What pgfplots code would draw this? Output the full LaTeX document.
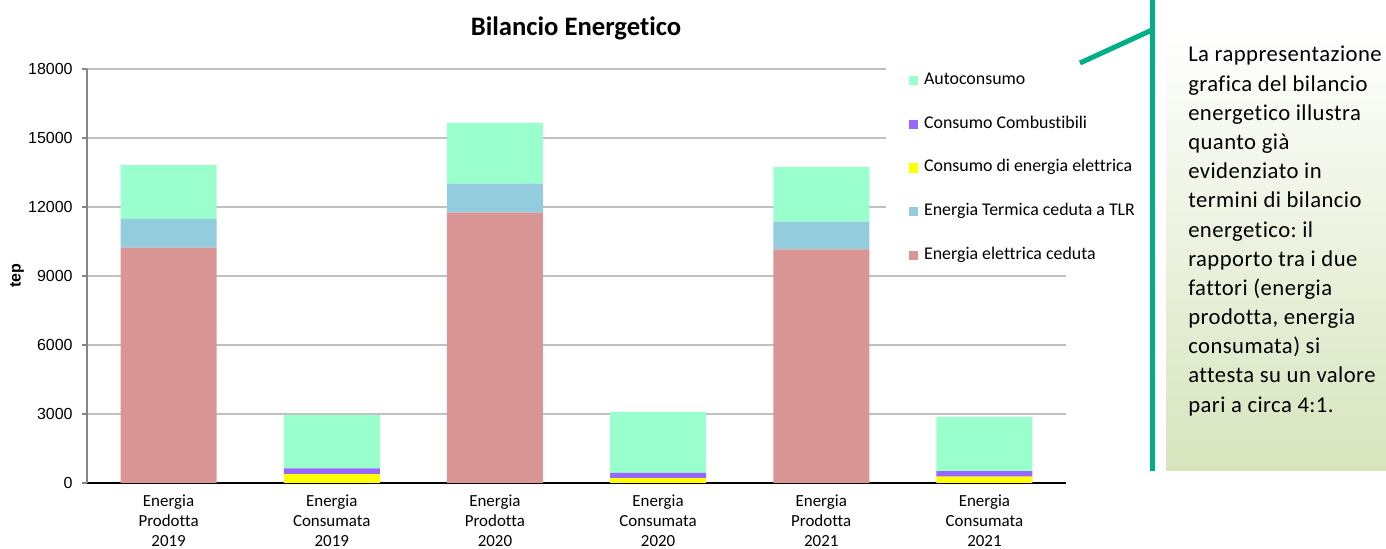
\documentclass[border=0pt]{standalone}
\usepackage{pgfplots}
\pgfplotsset{compat=1.18}
\usepackage{fontspec}
\setmainfont{Carlito}[Ligatures={NoCommon}]
\newfontfamily\arial{Liberation Sans}
\newfontfamily\callfont{Carlito}[Ligatures={NoCommon}, LetterSpace=2]
\definecolor{cRed}{HTML}{D99694}
\definecolor{cBlue}{HTML}{93CDDD}
\definecolor{cYel}{HTML}{FFFF00}
\definecolor{cPur}{HTML}{9966FF}
\definecolor{cGrn}{HTML}{99FFCC}
\definecolor{cLine}{HTML}{00B085}
\definecolor{cBox}{HTML}{D7E4BD}
\definecolor{cGrid}{HTML}{C0C0C0}
\definecolor{cAx}{HTML}{868686}
\frenchspacing
\begin{document}
\begin{tikzpicture}[x=0.75pt,y=0.75pt]
\useasboundingbox (0,0) rectangle (1386,549);
\begin{axis}[
  at={(65.25pt,49.5pt)}, anchor=south west,
  scale only axis, width=734.25pt, height=310.5pt,
  ybar stacked, bar width=72pt,
  xmin=-0.5, xmax=5.5, ymin=0, ymax=18000,
  xtick=data,
  xticklabels={{Energia\\Prodotta\\2019},{Energia\\Consumata\\2019},{Energia\\Prodotta\\2020},{Energia\\Consumata\\2020},{Energia\\Prodotta\\2021},{Energia\\Consumata\\2021}},
  ytick={0,3000,6000,9000,12000,15000,18000},
  scaled y ticks=false,
  ymajorgrids, grid style={color=cGrid, line width=0.8pt},
  axis x line*=bottom, axis y line*=left,
  x axis line style={black, line width=0.8pt, -},
  y axis line style={cAx, line width=0.8pt, -},
  xtick style={draw=none},
  ytick style={cAx, line width=0.8pt},
  tick align=outside, major tick length=3.75pt,
  /pgf/number format/assume math mode=true,
  /pgf/number format/1000 sep={},
  yticklabel style={font=\arial\fontsize{12}{14}\selectfont, xshift=-3.5pt},
  xticklabel style={align=center, font=\fontsize{12.7}{15}\selectfont, yshift=-1.8pt},
  ylabel={tep},
  ylabel style={font=\arial\bfseries\fontsize{12}{14}\selectfont, at={(axis description cs:-0.0715,0.5)}, anchor=center},
  legend style={at={(axis description cs:0.816,1.005)}, anchor=north west, draw=none, fill=white,
    font=\fontsize{13.4}{15}\selectfont, inner xsep=17pt, inner ysep=4pt, row sep=20.8pt,
    nodes={inner sep=0pt, text height=9pt, text depth=3pt}},
  legend cell align=left, reverse legend,
  legend image code/.code={\fill[#1] (0pt,-3.5pt) rectangle (7pt,3.5pt); \path (11.5pt,0pt);},
]
\addplot[fill=cRed, draw=none] coordinates {(0,10230) (1,0) (2,11754) (3,0) (4,10160) (5,0)};
\addlegendentry{Energia elettrica ceduta}
\addplot[fill=cBlue, draw=none] coordinates {(0,1250) (1,0) (2,1261) (3,0) (4,1202) (5,0)};
\addlegendentry{Energia Termica ceduta a TLR}
\addplot[fill=cYel, draw=none] coordinates {(0,0) (1,390) (2,0) (3,215) (4,0) (5,275)};
\addlegendentry{Consumo di energia elettrica}
\addplot[fill=cPur, draw=none] coordinates {(0,0) (1,250) (2,0) (3,220) (4,0) (5,240)};
\addlegendentry{Consumo Combustibili}
\addplot[fill=cGrn, draw=none] coordinates {(0,2335) (1,2318) (2,2637) (3,2652) (4,2377) (5,2362)};
\addlegendentry{Autoconsumo}
\end{axis}
\node[font=\bfseries\fontsize{20}{24}\selectfont] at (576,521) {Bilancio Energetico};
\shade[top color=white, bottom color=cBox] (1166,522) rectangle (1386,78);
\draw[cLine, line width=3.75pt] (1152,549) -- (1152,78);
\draw[cLine, line width=3.75pt] (1080,486) -- (1152,519);
\foreach \t [count=\i from 0] in {La rappresentazione,grafica del bilancio,energetico illustra,quanto già,evidenziato in,termini di bilancio,energetico: il,rapporto tra i due,fattori (energia,{prodotta, energia},consumata) si,attesta su un valore,pari a circa 4:1.}
  \node[anchor=base west, inner sep=0pt, font=\callfont\fontsize{17}{20}\selectfont] at (1188,{487-29.17*\i}) {\t};
\end{tikzpicture}
\end{document}
